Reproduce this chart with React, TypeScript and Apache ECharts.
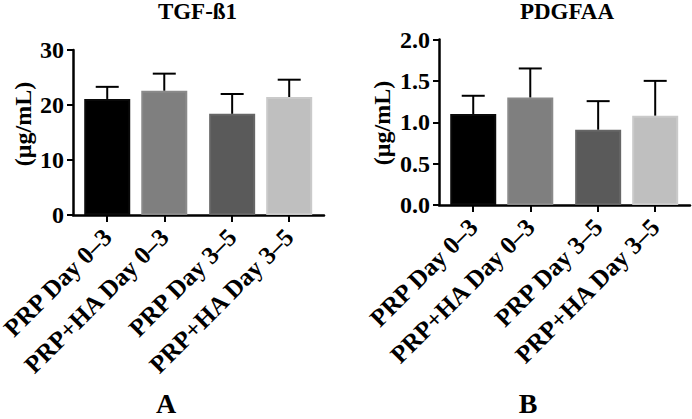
import React, { useEffect, useRef } from "react";
import * as echarts from "echarts";

const categories = ["PRP Day 0–3", "PRP+HA Day 0–3", "PRP Day 3–5", "PRP+HA Day 3–5"];
const positions = [0, 1, 2.19, 3.19];
const tgfMeans = [21.1, 22.6, 18.4, 21.45];
const tgfUpper = [23.3, 25.7, 22.0, 24.6];
const pdgfMeans = [1.1, 1.3, 0.91, 1.08];
const pdgfUpper = [1.32, 1.65, 1.255, 1.5];
const barColors = ["#000000", "#7f7f7f", "#5a5a5a", "#bfbfbf"];
const barBorders = ["#0a0a0a", "#8a8a8a", "#666666", "#cacaca"];
const panelTitles = ["TGF-ß1", "PDGFAA"];
const panelLetters = ["A", "B"];
const yName = "(μg/mL)";

const FONT = '"Liberation Serif", "Times New Roman", serif';

function labelFor(v: number): string {
  for (let i = 0; i < positions.length; i++) {
    if (Math.abs(positions[i] - v) < 1e-6) return categories[i];
  }
  return "";
}

function xAxisCfg(gridIndex: number) {
  return {
    type: "value",
    gridIndex,
    min: -0.6,
    max: 3.8,
    axisLine: { show: true, onZero: false, lineStyle: { color: "#000", width: 2.5 } },
    axisTick: {
      show: true,
      customValues: positions,
      length: 7,
      lineStyle: { color: "#000", width: 2 },
    },
    axisLabel: {
      show: true,
      customValues: positions,
      rotate: 45,
      margin: 18,
      color: "#000",
      fontFamily: FONT,
      fontWeight: "bold",
      fontSize: 25,
      formatter: (v: number) => labelFor(v),
    },
    splitLine: { show: false },
  };
}

function yAxisCfg(gridIndex: number, max: number, interval: number, digits: number) {
  return {
    type: "value",
    gridIndex,
    min: 0,
    max,
    interval,
    axisLine: { show: true, onZero: false, lineStyle: { color: "#000", width: 2.5 } },
    axisTick: { show: true, length: 6, lineStyle: { color: "#000", width: 2 } },
    axisLabel: {
      color: "#000",
      fontFamily: FONT,
      fontWeight: "bold",
      fontSize: 24,
      margin: 9,
      formatter: (v: number) => v.toFixed(digits),
    },
    splitLine: { show: false },
  };
}

function barSeries(idx: number, means: number[]) {
  return {
    type: "bar",
    xAxisIndex: idx,
    yAxisIndex: idx,
    barWidth: 46,
    data: positions.map((p, i) => ({
      value: [p, means[i]],
      itemStyle: { color: barColors[i], borderColor: barBorders[i], borderWidth: 2 },
    })),
  };
}

function errSeries(idx: number, means: number[], upper: number[]) {
  return {
    type: "custom",
    xAxisIndex: idx,
    yAxisIndex: idx,
    encode: { x: 0, y: [1, 2] },
    data: positions.map((p, i) => [p, means[i], upper[i]]),
    z: 5,
    renderItem: (params: any, api: any) => {
      const x = api.value(0);
      const base = api.coord([x, api.value(1)]);
      const top = api.coord([x, api.value(2)]);
      const half = 11.5;
      return {
        type: "group",
        children: [
          {
            type: "line",
            shape: { x1: base[0], y1: base[1], x2: top[0], y2: top[1] },
            style: { stroke: "#000", lineWidth: 2 },
          },
          {
            type: "line",
            shape: { x1: top[0] - half, y1: top[1], x2: top[0] + half, y2: top[1] },
            style: { stroke: "#000", lineWidth: 2 },
          },
        ],
      };
    },
  };
}

function textEl(text: string, x: number, y: number, size: number, lineHeight: number, rotation = 0) {
  return {
    type: "text",
    x,
    y,
    rotation,
    style: {
      text,
      fill: "#000",
      fontFamily: FONT,
      fontWeight: "bold",
      fontSize: size,
      lineHeight,
      align: "center",
      verticalAlign: "middle",
    },
  };
}

export default function App() {
  const ref = useRef<HTMLDivElement>(null);
  useEffect(() => {
    if (!ref.current) return;
    const chart = echarts.init(ref.current, undefined, { renderer: "svg" });
    chart.setOption({
      animation: false,
      backgroundColor: "#fff",
      grid: [
        { left: 73, right: 368, top: 50, bottom: 204, outerBoundsMode: "none", containLabel: false },
        { left: 439, right: 2, top: 39.5, bottom: 214, outerBoundsMode: "none", containLabel: false },
      ],
      xAxis: [xAxisCfg(0), xAxisCfg(1)],
      yAxis: [yAxisCfg(0, 30, 10, 0), yAxisCfg(1, 2, 0.5, 1)],
      series: [
        barSeries(0, tgfMeans),
        errSeries(0, tgfMeans, tgfUpper),
        barSeries(1, pdgfMeans),
        errSeries(1, pdgfMeans, pdgfUpper),
      ],
      graphic: [
        textEl(panelTitles[0], 197.5, 11.5, 23, 23),
        textEl(panelTitles[1], 567, 11.5, 23, 23),
        textEl(yName, 23, 124, 24, 24, Math.PI / 2),
        textEl(yName, 382, 123, 24, 24, Math.PI / 2),
        textEl(panelLetters[0], 166, 403.5, 28, 24),
        textEl(panelLetters[1], 528, 403, 28, 24),
      ],
    });
    return () => chart.dispose();
  }, []);
  return (
    <div
      ref={ref}
      style={{ position: "absolute", left: 0, top: 0, width: 692, height: 419 }}
    />
  );
}
